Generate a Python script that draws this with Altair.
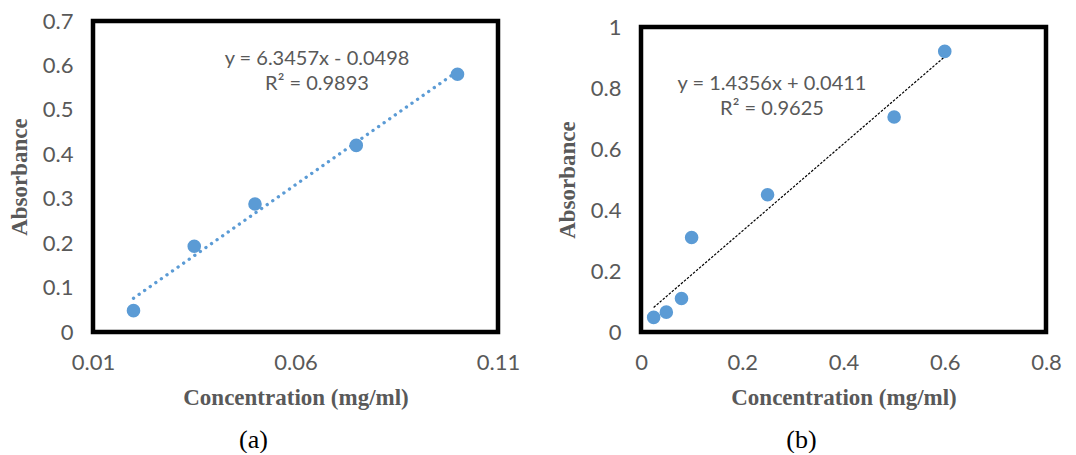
import altair as alt
import pandas as pd

# ---- data ----
conc_a = [0.02, 0.035, 0.05, 0.075, 0.1]
abs_a = [0.048, 0.193, 0.288, 0.420, 0.580]
conc_b = [0.025, 0.05, 0.08, 0.1, 0.25, 0.5, 0.6]
abs_b = [0.048, 0.065, 0.11, 0.31, 0.45, 0.705, 0.92]

eq_a = ["y = 6.3457x - 0.0498", "R² = 0.9893"]
eq_b = ["y = 1.4356x + 0.0411", "R² = 0.9625"]

ticks_a_x = [0.01, 0.06, 0.11]
ticks_a_y = [0, 0.1, 0.2, 0.3, 0.4, 0.5, 0.6, 0.7]
ticks_b_x = [0, 0.2, 0.4, 0.6, 0.8]
ticks_b_y = [0, 0.2, 0.4, 0.6, 0.8, 1]

x_title = "Concentration (mg/ml)"
y_title = "Absorbance"
captions = ["(a)", "(b)"]

BLUE = "#5B9BD5"
GRAY = "#595959"
H = 311


def panel(xs, ys, xt, yt, xdom, ydom, eq, cap, w, top, eq_pos, trend_style):
    df = pd.DataFrame({"c": xs, "a": ys})
    base = alt.Chart(df)
    lab = "format(datum.value, '~g')"
    x = alt.X("c:Q", scale=alt.Scale(domain=xdom, nice=False, zero=False),
              axis=alt.Axis(values=xt, labelExpr=lab, title=x_title, labelFlush=False))
    y = alt.Y("a:Q", scale=alt.Scale(domain=ydom, nice=False, zero=False, range=[H, top]),
              axis=alt.Axis(values=yt, labelExpr=lab, title=y_title))
    frame = alt.Chart(pd.DataFrame({"f": [0]})).mark_rect(
        filled=False, stroke="black", strokeWidth=4.5
    ).encode(x=alt.value(0), x2=alt.value(w), y=alt.value(top), y2=alt.value(H))
    trend = base.transform_regression("c", "a").mark_line(**trend_style).encode(x=x, y=y)
    pts = base.mark_circle(size=185, color=BLUE, opacity=1).encode(x=x, y=y)
    layers = [frame, trend, pts]
    for i, line in enumerate(eq):
        layers.append(
            alt.Chart(pd.DataFrame({"t": [line]})).mark_text(
                font="Lato", fontSize=20, color=GRAY, baseline="middle", align="center"
            ).encode(text="t:N", x=alt.value(eq_pos[0]), y=alt.value(eq_pos[1] + 25 * i))
        )
    return alt.layer(*layers).properties(
        width=w, height=H,
        title=alt.TitleParams(text=cap, orient="bottom", frame="group", anchor="middle",
                              dx=-42, offset=18, font="Liberation Serif", fontSize=26,
                              fontWeight="normal", color="black"),
    )


pa = panel(conc_a, abs_a, ticks_a_x, ticks_a_y, [0.01, 0.11], [0, 0.7], eq_a, captions[0],
           405, 0, (224, 38),
           dict(color=BLUE, strokeWidth=3.3, strokeDash=[0.1, 6.7], strokeCap="round"))
pb = panel(conc_b, abs_b, ticks_b_x, ticks_b_y, [0, 0.8], [0, 1], eq_b, captions[1],
           405, 6, (131, 63),
           dict(color="black", strokeWidth=1.2, strokeDash=[2.5, 1.5]))

chart = alt.hconcat(pa, pb, spacing=36).properties(
    padding={"left": 0, "top": 2, "right": 0, "bottom": 0}
).configure_view(
    strokeWidth=0
).configure_axis(
    labelFont="Lato", labelFontSize=22, labelColor=GRAY, labelPadding=20,
    titleFont="Liberation Serif", titleFontWeight="bold", titleFontSize=23,
    titleColor=GRAY, domain=False, ticks=False, grid=False,
).configure_axisX(titlePadding=13).configure_axisY(titlePadding=11)

chart.save("out.html", embed_options={"renderer": "svg", "actions": False})
